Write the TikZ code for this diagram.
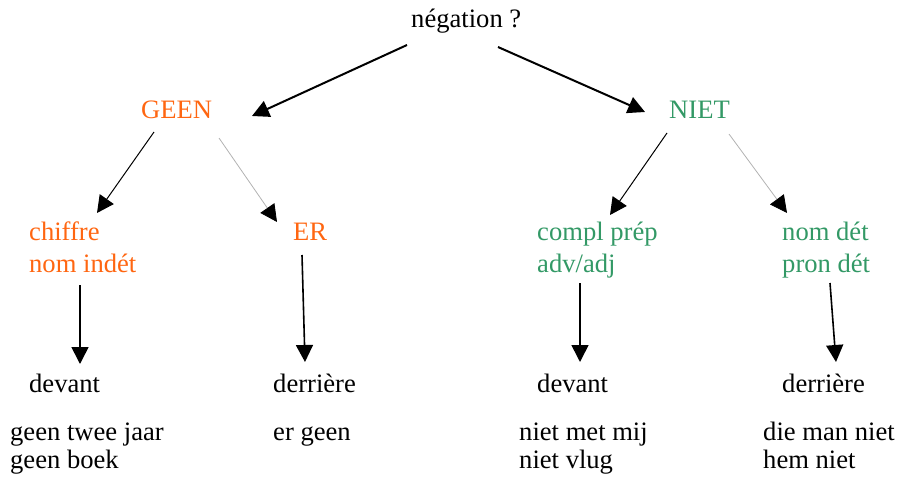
\documentclass[tikz,border=0pt]{standalone}
\usepackage{fontspec}
\setmainfont{Liberation Serif}
\usetikzlibrary{arrows.meta,calc}
\definecolor{geenc}{HTML}{FF6611}
\definecolor{nietc}{HTML}{339966}
\begin{document}
\begin{tikzpicture}[x=1pt,y=-1pt,
  every node/.style={inner sep=0pt,anchor=base west,font=\fontsize{26.6}{30}\selectfont},
  orangetxt/.style={text=geenc},
  greentxt/.style={text=nietc},
  bigarrow/.style={line width=2pt,-{Triangle[length=17pt,width=17pt]}},
  thinblack/.style={line width=1pt,-{Triangle[length=17pt,width=17pt]}},
  thingray/.style={line width=0.8pt,draw=black!30,-{Triangle[length=17pt,width=17pt,color=black,fill=black]}},
  vertarrow/.style={line width=1.6pt,-{Triangle[length=17pt,width=17pt]}}]
\useasboundingbox (0,0) rectangle (898,477);
\node (neg) at (411,27) {négation ?};
\node[orangetxt] (geen) at (141,118) {GEEN};
\node[greentxt] (niet) at (669,118) {NIET};
\node[orangetxt] (chiffre) at (29,240) {chiffre};
\node[orangetxt] (nomindet) at (29,272) {nom indét};
\node[orangetxt] (er) at (293,240) {ER};
\node[greentxt] (compl) at (537,240) {compl prép};
\node[greentxt] (adv) at (537,272) {adv/adj};
\node[greentxt] (nomdet) at (782,240) {nom dét};
\node[greentxt] (prondet) at (782,272) {pron dét};
\node (dev1) at (29,392) {devant};
\node (der1) at (273,392) {derrière};
\node (dev2) at (537,392) {devant};
\node (der2) at (782,392) {derrière};
\node (ex1a) at (10,440) {geen twee jaar};
\node (ex1b) at (10,468) {geen boek};
\node (ex2a) at (273,440) {er geen};
\node (ex3a) at (519,440) {niet met mij};
\node (ex3b) at (519,468) {niet vlug};
\node (ex4a) at (763,440) {die man niet};
\node (ex4b) at (763,468) {hem niet};
% top arrows
\draw[bigarrow] ($(neg.base west)+(-4,18)$) -- ($(geen.base west)+(111,-2)$);
\draw[bigarrow] ($(neg.base west)+(87,20)$) -- ($(niet.base west)+(-24,-6)$);
% second level
\draw[thinblack] ($(geen.base west)+(13,14)$) -- ($(chiffre.base west)+(68,-27)$);
\draw[thingray] ($(geen.base west)+(78,20)$) -- ($(er.base west)+(-16,-18)$);
\draw[thinblack] ($(niet.base west)+(-2,15)$) -- ($(compl.base west)+(73,-25)$);
\draw[thingray] ($(niet.base west)+(60,16)$) -- ($(nomdet.base west)+(5,-27)$);
% vertical arrows
\draw[vertarrow] ($(nomindet.base west)+(51,13)$) -- ($(dev1.base west)+(51,-28)$);
\draw[vertarrow] ($(er.base west)+(9,15)$) -- ($(der1.base west)+(32,-30)$);
\draw[vertarrow] ($(adv.base west)+(43,11)$) -- ($(dev2.base west)+(43,-30)$);
\draw[vertarrow] ($(prondet.base west)+(48,11)$) -- ($(der2.base west)+(54,-30)$);
\end{tikzpicture}
\end{document}
